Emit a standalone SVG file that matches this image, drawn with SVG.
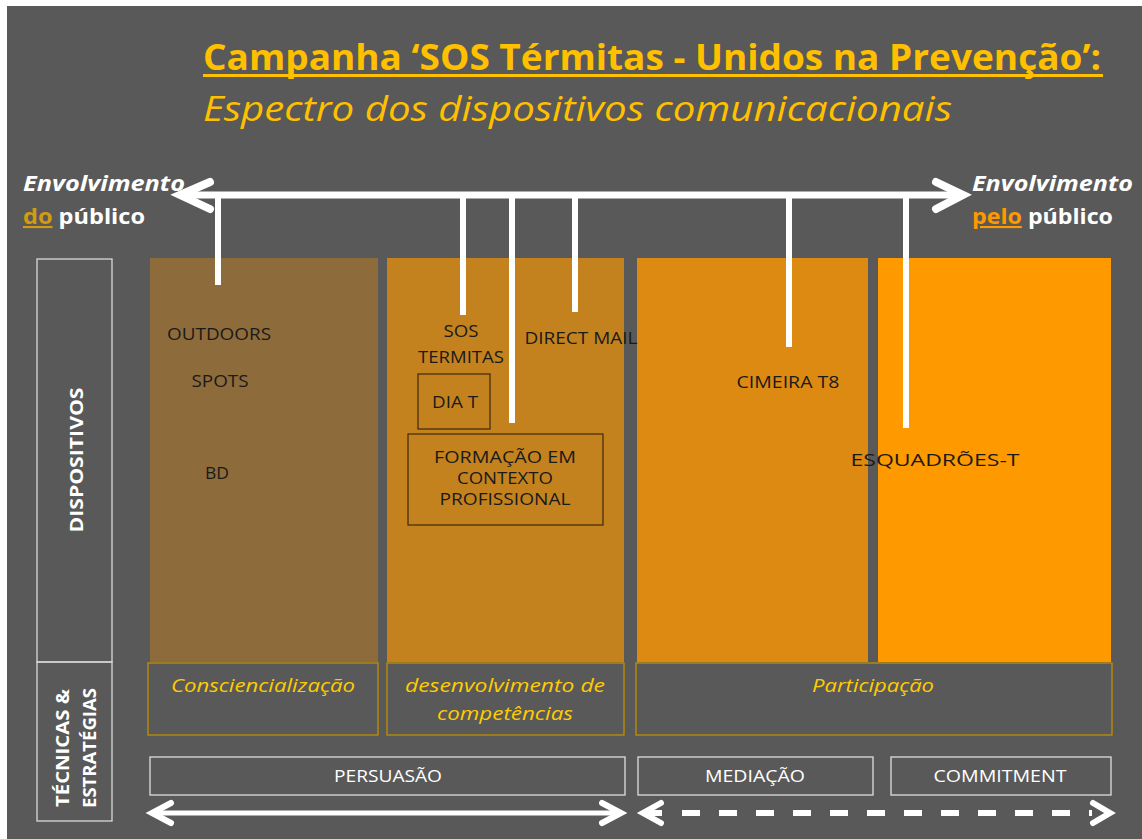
<svg xmlns="http://www.w3.org/2000/svg" width="1142" height="839" viewBox="0 0 1142 839">
<style>
.t{font-family:"Open Sans","Liberation Sans",sans-serif}
.dev{font-size:17px;fill:#1a1a1a;text-anchor:middle}
.tech{font-size:19px;fill:#FFCC00;font-style:italic;text-anchor:middle}
.bot{font-size:16.5px;fill:#ffffff;text-anchor:middle}
.side{font-size:18px;fill:#ffffff;font-weight:bold;text-anchor:middle}
.env{font-size:21px;fill:#ffffff;font-weight:bold}
.lbl{fill:none;stroke:#d9d9d9;stroke-width:1.3}
.tb{fill:#595959;stroke:#BF9000;stroke-width:1.3}
.bb{fill:none;stroke:#dddddd;stroke-width:1.3}
.ib{fill:none;stroke:#3d2a0c;stroke-width:1.2}
.vl{stroke:#ffffff;stroke-width:6;fill:none}
</style>
<rect x="0" y="0" width="1142" height="839" fill="#ffffff"/>
<rect x="7" y="6" width="1135" height="833" fill="#595959"/>

<g id="title">
<text class="t" x="203" y="70" font-size="35" font-weight="bold" fill="#FFC000" textLength="898" lengthAdjust="spacingAndGlyphs">Campanha ‘SOS Térmitas - Unidos na Prevenção’:</text>
<rect x="203" y="74" width="900" height="3" fill="#FFC000"/>
<text class="t" x="203" y="121" font-size="34" font-style="italic" fill="#FFC000" textLength="749" lengthAdjust="spacingAndGlyphs">Espectro dos dispositivos comunicacionais</text>
</g>

<g id="env-left">
<text class="t env" x="23" y="191" font-style="italic" textLength="162" lengthAdjust="spacingAndGlyphs">Envolvimento</text>
<text class="t env" x="23" y="224" textLength="122" lengthAdjust="spacingAndGlyphs"><tspan fill="#D49B12" text-decoration="underline">do</tspan> público</text>
</g>
<g id="env-right">
<text class="t env" x="972" y="191" font-style="italic" textLength="161" lengthAdjust="spacingAndGlyphs">Envolvimento</text>
<text class="t env" x="972" y="224" textLength="141" lengthAdjust="spacingAndGlyphs"><tspan fill="#FF9900" text-decoration="underline">pelo</tspan> público</text>
</g>

<g id="side-labels">
<rect class="lbl" x="37" y="259" width="75" height="403"/>
<rect class="lbl" x="37" y="662" width="75" height="159"/>
<text class="t side" transform="translate(83,460) rotate(-90)" textLength="145" lengthAdjust="spacingAndGlyphs">DISPOSITIVOS</text>
<text class="t side" transform="translate(69,748) rotate(-90)" textLength="118" lengthAdjust="spacingAndGlyphs">TÉCNICAS &amp;</text>
<text class="t side" transform="translate(96,748) rotate(-90)" textLength="120" lengthAdjust="spacingAndGlyphs">ESTRATÉGIAS</text>
</g>

<g id="columns">
<rect x="150" y="258" width="228" height="404" fill="#8E6B3A"/>
<rect x="387" y="258" width="237" height="404" fill="#C4821F"/>
<rect x="637" y="258" width="231" height="404" fill="#DD8A13"/>
<rect x="878" y="258" width="233" height="404" fill="#FF9900"/>
</g>

<g id="connectors">
<line class="vl" x1="218" y1="196" x2="218" y2="285"/>
<line class="vl" x1="463" y1="196" x2="463" y2="315"/>
<line class="vl" x1="512" y1="196" x2="512" y2="423"/>
<line class="vl" x1="575" y1="196" x2="575" y2="312"/>
<line class="vl" x1="789" y1="196" x2="789" y2="347"/>
<line class="vl" x1="906" y1="196" x2="906" y2="428"/>
<line x1="182" y1="195" x2="961" y2="195" stroke="#ffffff" stroke-width="7"/>
<polyline points="210,182 180,195 210,209" fill="none" stroke="#ffffff" stroke-width="8" stroke-linecap="round" stroke-linejoin="miter"/>
<polyline points="936,182 963,195 936,209" fill="none" stroke="#ffffff" stroke-width="8" stroke-linecap="round" stroke-linejoin="miter"/>
<line x1="153" y1="813" x2="620" y2="813" stroke="#ffffff" stroke-width="5"/>
<polyline points="171,803 152,813 171,823" fill="none" stroke="#ffffff" stroke-width="6" stroke-linecap="round"/>
<polyline points="602,803 621,813 602,823" fill="none" stroke="#ffffff" stroke-width="6" stroke-linecap="round"/>
<line x1="682" y1="813" x2="1092" y2="813" stroke="#ffffff" stroke-width="6" stroke-dasharray="18 19"/>
<line x1="644" y1="813" x2="662" y2="813" stroke="#ffffff" stroke-width="6"/>
<polyline points="661,803 643,813 661,823" fill="none" stroke="#ffffff" stroke-width="6" stroke-linecap="round"/>
<polyline points="1093,803 1110,813 1093,823" fill="none" stroke="#ffffff" stroke-width="6" stroke-linecap="round"/>
</g>

<g id="outdoors"><text class="t dev" x="219" y="340" textLength="104" lengthAdjust="spacingAndGlyphs">OUTDOORS</text></g>
<g id="spots"><text class="t dev" x="220" y="387" textLength="57" lengthAdjust="spacingAndGlyphs">SPOTS</text></g>
<g id="bd"><text class="t dev" x="217" y="479" textLength="24" lengthAdjust="spacingAndGlyphs">BD</text></g>
<g id="sos-termitas"><text class="t dev" x="461" y="337" textLength="35" lengthAdjust="spacingAndGlyphs">SOS</text><text class="t dev" x="461" y="363" textLength="86" lengthAdjust="spacingAndGlyphs">TERMITAS</text></g>
<g id="direct-mail"><text class="t dev" x="581" y="344" textLength="113" lengthAdjust="spacingAndGlyphs">DIRECT MAIL</text></g>
<g id="dia-t"><rect class="ib" x="418" y="374" width="72" height="55"/><text class="t dev" x="455" y="408" textLength="46" lengthAdjust="spacingAndGlyphs">DIA T</text></g>
<g id="formacao"><rect class="ib" x="408" y="434" width="195" height="91"/>
<text class="t dev" x="505" y="463" textLength="142" lengthAdjust="spacingAndGlyphs">FORMAÇÃO EM</text>
<text class="t dev" x="505" y="484" textLength="96" lengthAdjust="spacingAndGlyphs">CONTEXTO</text>
<text class="t dev" x="505" y="505" textLength="131" lengthAdjust="spacingAndGlyphs">PROFISSIONAL</text></g>
<g id="cimeira"><text class="t dev" x="788" y="388" textLength="103" lengthAdjust="spacingAndGlyphs">CIMEIRA T8</text></g>
<g id="esquadroes"><text class="t dev" x="935" y="466" textLength="169" lengthAdjust="spacingAndGlyphs">ESQUADRÕES-T</text></g>

<g id="consciencializacao"><rect class="tb" x="148" y="663" width="230" height="72"/><text class="t tech" x="263" y="692" textLength="184" lengthAdjust="spacingAndGlyphs">Consciencialização</text></g>
<g id="desenvolvimento"><rect class="tb" x="387" y="663" width="237" height="72"/><text class="t tech" x="505" y="692" textLength="200" lengthAdjust="spacingAndGlyphs">desenvolvimento  de</text><text class="t tech" x="505" y="720" textLength="136" lengthAdjust="spacingAndGlyphs">competências</text></g>
<g id="participacao"><rect class="tb" x="636" y="663" width="476" height="72"/><text class="t tech" x="873" y="692" textLength="122" lengthAdjust="spacingAndGlyphs">Participação</text></g>

<g id="persuasao"><rect class="bb" x="150" y="757" width="475" height="38"/><text class="t bot" x="388" y="782" textLength="108" lengthAdjust="spacingAndGlyphs">PERSUASÃO</text></g>
<g id="mediacao"><rect class="bb" x="638" y="757" width="235" height="38"/><text class="t bot" x="755" y="782" textLength="100" lengthAdjust="spacingAndGlyphs">MEDIAÇÃO</text></g>
<g id="commitment"><rect class="bb" x="891" y="757" width="220" height="38"/><text class="t bot" x="1000" y="782" textLength="133" lengthAdjust="spacingAndGlyphs">COMMITMENT</text></g>
</svg>
